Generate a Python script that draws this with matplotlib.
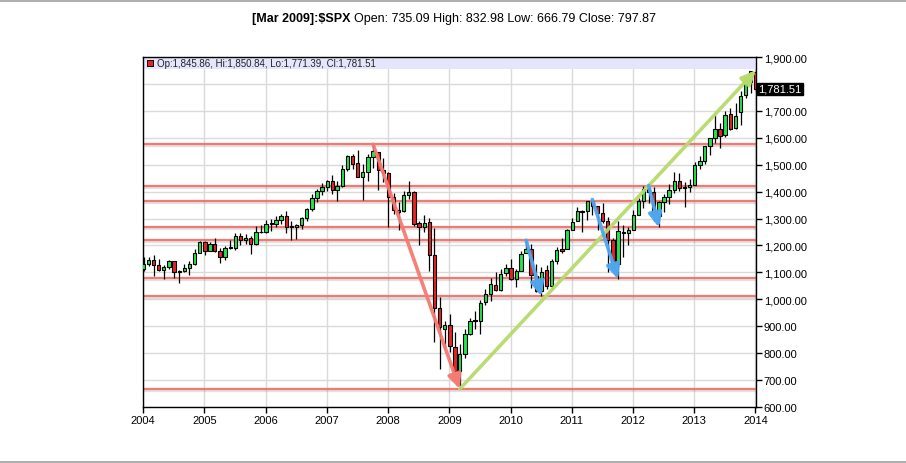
"""Monthly $SPX candlestick chart, 2004-2014, with trend lines."""

import matplotlib

matplotlib.use("Agg")

import matplotlib.dates as mdates
import matplotlib.patheffects as pe
import matplotlib.pyplot as plt
import pandas as pd
from matplotlib.lines import Line2D
from matplotlib.ticker import FuncFormatter, MultipleLocator

plt.rcParams["font.family"] = ["Liberation Sans", "DejaVu Sans"]

# monthly bars Jan 2004 .. Jan 2014
first_month = "2004-01-01"
opens = [
    1111.92, 1131.13, 1144.94, 1126.21, 1107.30, 1120.68, 1140.84, 1101.72, 1104.24, 1114.58, 1130.20, 1173.82,
    1211.92, 1181.27, 1203.60, 1180.59, 1156.85, 1191.50, 1191.33, 1234.18, 1220.33, 1228.81, 1207.01, 1249.48,
    1248.29, 1280.08, 1280.66, 1294.83, 1310.61, 1270.09, 1270.20, 1276.66, 1303.82, 1335.85, 1377.94, 1400.63,
    1418.30, 1437.90, 1406.80, 1420.83, 1482.37, 1530.62, 1504.66, 1455.18, 1473.96, 1527.29, 1545.79, 1479.63,
    1467.97, 1378.60, 1330.45, 1326.41, 1385.97, 1399.62, 1284.91, 1269.42, 1287.83, 1164.17, 968.67, 888.61,
    902.99, 823.09, 735.09, 797.87, 872.74, 923.26, 920.82, 990.22, 1019.52, 1054.91, 1036.18, 1098.89,
    1116.56, 1073.89, 1105.36, 1171.23, 1188.58, 1087.30, 1031.10, 1107.53, 1049.72, 1143.49, 1185.71, 1186.60,
    1257.62, 1289.14, 1328.64, 1329.48, 1365.21, 1345.20, 1320.64, 1292.59, 1219.12, 1131.21, 1251.00, 1246.91,
    1258.86, 1312.45, 1365.90, 1408.47, 1397.86, 1309.87, 1362.33, 1379.32, 1406.54, 1440.90, 1412.20, 1416.18,
    1426.19, 1498.11, 1514.68, 1569.18, 1597.55, 1631.71, 1609.78, 1689.42, 1635.95, 1693.87, 1758.70, 1806.55,
    1845.86,
]
highs = [
    1155.38, 1158.98, 1163.23, 1150.57, 1127.74, 1146.34, 1140.84, 1109.68, 1131.54, 1142.05, 1188.46, 1217.33,
    1217.80, 1212.44, 1229.11, 1191.88, 1199.56, 1219.59, 1245.15, 1245.86, 1243.13, 1233.34, 1270.64, 1275.80,
    1294.90, 1297.57, 1310.88, 1318.16, 1326.70, 1290.68, 1280.42, 1306.74, 1340.28, 1389.45, 1407.89, 1431.81,
    1441.61, 1461.57, 1438.89, 1498.02, 1535.56, 1540.56, 1555.90, 1503.89, 1538.74, 1576.09, 1545.79, 1523.57,
    1471.77, 1396.02, 1359.68, 1404.05, 1440.24, 1404.05, 1292.17, 1313.15, 1303.04, 1264.12, 1007.51, 918.85,
    943.85, 877.86, 832.98, 888.70, 930.17, 956.23, 996.68, 1039.47, 1080.15, 1101.36, 1113.69, 1130.38,
    1150.45, 1112.42, 1180.69, 1219.80, 1205.13, 1131.23, 1120.95, 1129.24, 1148.90, 1196.14, 1227.08, 1262.60,
    1302.67, 1344.07, 1332.28, 1364.56, 1370.58, 1345.20, 1356.48, 1307.38, 1229.29, 1292.66, 1277.55, 1269.37,
    1333.47, 1378.04, 1419.15, 1422.38, 1415.32, 1363.46, 1391.74, 1426.68, 1474.51, 1470.96, 1434.27, 1448.00,
    1509.94, 1530.94, 1570.28, 1597.57, 1687.18, 1654.19, 1698.78, 1709.67, 1729.86, 1775.22, 1813.55, 1849.44,
    1850.84,
]
lows = [
    1105.08, 1124.44, 1087.16, 1106.30, 1076.32, 1113.32, 1078.78, 1060.72, 1101.29, 1090.19, 1127.60, 1173.37,
    1163.75, 1180.95, 1176.92, 1136.15, 1146.18, 1188.30, 1183.55, 1201.07, 1205.35, 1168.20, 1201.07, 1246.59,
    1245.74, 1253.61, 1268.42, 1280.74, 1245.34, 1219.29, 1224.54, 1261.30, 1290.93, 1327.10, 1360.98, 1385.93,
    1403.97, 1389.42, 1363.98, 1416.37, 1476.70, 1484.18, 1454.25, 1370.60, 1439.29, 1489.56, 1406.10, 1435.65,
    1270.05, 1316.75, 1256.98, 1324.35, 1373.07, 1272.00, 1200.44, 1248.64, 1106.42, 839.80, 741.02, 815.69,
    804.30, 734.52, 666.79, 783.32, 866.10, 888.86, 869.32, 978.51, 991.97, 1029.38, 1029.38, 1085.89,
    1071.59, 1044.50, 1105.36, 1170.69, 1040.78, 1028.33, 1010.91, 1039.70, 1039.70, 1131.87, 1173.00, 1186.60,
    1257.62, 1289.14, 1249.05, 1294.70, 1311.80, 1258.07, 1282.86, 1101.54, 1114.22, 1074.77, 1158.66, 1202.37,
    1258.86, 1312.45, 1340.03, 1357.38, 1291.98, 1266.74, 1325.41, 1354.65, 1396.56, 1403.28, 1343.35, 1398.11,
    1426.19, 1485.01, 1501.48, 1536.03, 1581.28, 1560.33, 1604.57, 1627.47, 1633.41, 1646.47, 1746.20, 1767.99,
    1771.39,
]
closes = [
    1131.13, 1144.94, 1126.21, 1107.30, 1120.68, 1140.84, 1101.72, 1104.24, 1114.58, 1130.20, 1173.82, 1211.92,
    1181.27, 1203.60, 1180.59, 1156.85, 1191.50, 1191.33, 1234.18, 1220.33, 1228.81, 1207.01, 1249.48, 1248.29,
    1280.08, 1280.66, 1294.83, 1310.61, 1270.09, 1270.20, 1276.66, 1303.82, 1335.85, 1377.94, 1400.63, 1418.30,
    1438.24, 1406.82, 1420.86, 1482.37, 1530.62, 1503.35, 1455.27, 1473.99, 1526.75, 1549.38, 1481.14, 1468.36,
    1378.55, 1330.63, 1322.70, 1385.59, 1400.38, 1280.00, 1267.38, 1282.83, 1166.36, 968.75, 896.24, 903.25,
    825.88, 735.09, 797.87, 872.81, 919.14, 919.32, 987.48, 1020.62, 1057.08, 1036.19, 1095.63, 1115.10,
    1073.87, 1104.49, 1169.43, 1186.69, 1089.41, 1030.71, 1101.60, 1049.33, 1141.20, 1183.26, 1180.55, 1257.64,
    1286.12, 1327.22, 1325.83, 1363.61, 1345.20, 1320.64, 1292.28, 1218.89, 1131.42, 1253.30, 1246.96, 1257.60,
    1312.41, 1365.68, 1408.47, 1397.91, 1310.33, 1362.16, 1379.32, 1406.58, 1440.67, 1412.16, 1416.18, 1426.19,
    1498.11, 1514.68, 1569.19, 1597.57, 1630.74, 1606.28, 1685.73, 1632.97, 1681.55, 1756.54, 1805.81, 1848.36,
    1781.51,
]

# support / resistance levels drawn across the chart
levels = [1576, 1422, 1367, 1270, 1222, 1078, 1011, 667]

# (from bar, price kind) -> (to bar, price kind), color
trend_arrows = [
    ((45, "high"), (62, "low"), "#f47b72"),
    ((62, "low"), (120, "high"), "#b7da6c"),
    ((75, "high"), (78, "low"), "#4ea7ee"),
    ((88, "high"), (93, "low"), "#4ea7ee"),
    ((99, "high"), (101, "low"), "#4ea7ee"),
]

title_bold = "[Mar 2009]:$SPX"
title_rest = "Open: 735.09 High: 832.98 Low: 666.79 Close: 797.87"

UP = "#1ee84c"
DOWN = "#e82323"
GRID = "#dadada"

months = pd.date_range(first_month, periods=len(closes), freq="MS")
xs = mdates.date2num(months) + 3
prices = {"high": highs, "low": lows}

fig = plt.figure(figsize=(9.06, 4.64), dpi=100)
ax = fig.add_axes([143 / 906, 1 - 408 / 464, 613 / 906, 350 / 464])

# grid
ax.yaxis.set_major_locator(MultipleLocator(100))
ax.xaxis.set_major_locator(mdates.YearLocator())
ax.xaxis.set_major_formatter(mdates.DateFormatter("%Y"))
ax.grid(True, color=GRID, linewidth=1, zorder=0)
ax.set_axisbelow(True)

# header band
ax.axhspan(1856, 1900, color="#e5e5fb", zorder=1.5, linewidth=0)

# horizontal levels
shadow = [pe.SimpleLineShadow(offset=(0.5, -1.5), shadow_color="#888888", alpha=0.25), pe.Normal()]
for lvl in levels:
    ax.axhline(lvl, color="#f26a62", linewidth=1.6, alpha=0.9, zorder=2, path_effects=shadow)

# candles
colors = [UP if c >= o else DOWN for o, c in zip(opens, closes)]
bottoms = [min(o, c) for o, c in zip(opens, closes)]
heights = [max(abs(c - o), 1.5) for o, c in zip(opens, closes)]
ax.vlines(xs, lows, highs, color="black", linewidth=0.9, zorder=3)
ax.bar(xs, heights, bottom=bottoms, width=20, color=colors, edgecolor="black",
       linewidth=0.8, zorder=4)

# trend arrows
for (i0, k0), (i1, k1), col in trend_arrows:
    ax.annotate(
        "",
        xy=(xs[i1], prices[k1][i1]),
        xytext=(xs[i0], prices[k0][i0]),
        arrowprops=dict(arrowstyle="-|>,head_length=0.85,head_width=0.4", color=col,
                        linewidth=2.6, mutation_scale=10, shrinkA=0, shrinkB=0, alpha=0.95),
        zorder=5,
    )

ax.set_xlim(mdates.date2num(pd.Timestamp("2004-01-01")), mdates.date2num(pd.Timestamp("2014-01-04")))
ax.set_ylim(600, 1900)

# axes styling; the last-price flag sits over the 1,800 label
last = closes[-1]
ax.yaxis.tick_right()
ax.yaxis.set_major_formatter(FuncFormatter(lambda v, _: "" if abs(v - last) < 40 else f"{v:,.2f}"))
ax.tick_params(axis="both", labelsize=8, length=4, width=1, color="black", pad=1.5)
for side in ["left", "right", "top", "bottom"]:
    ax.spines[side].set_color("black")
    ax.spines[side].set_linewidth(1)

# legend line in the header band
ax.scatter([0.012], [0.983], transform=ax.transAxes, marker="s", s=22, color=DOWN,
           edgecolor="black", linewidths=0.7, zorder=6, clip_on=False)
ax.text(0.023, 0.983, f"Op:{opens[-1]:,.2f}, Hi:{highs[-1]:,.2f}, Lo:{lows[-1]:,.2f}, Cl:{last:,.2f}",
        transform=ax.transAxes, fontsize=7, va="center", ha="left", color="#222222", zorder=6)

# last price flag
ax.text(1.004, last, f"{last:,.2f}", transform=ax.get_yaxis_transform(),
        fontsize=8, color="white", va="center", ha="left",
        bbox=dict(boxstyle="square,pad=0.12", facecolor="black", edgecolor="black"), zorder=7)

# title
fig.text(351 / 906, 1 - 19 / 464, title_bold, fontsize=9, fontweight="bold", ha="right", va="center",
         family=["Liberation Sans Narrow", "Liberation Sans"], parse_math=False)
fig.text(354 / 906, 1 - 19 / 464, title_rest, fontsize=9, ha="left", va="center",
         family=["Liberation Sans Narrow", "Liberation Sans"])

# page separators
for yy in (1 - 2 / 464, 1 - 463 / 464):
    fig.add_artist(Line2D([0, 1], [yy, yy], transform=fig.transFigure, color="#a0a0a0", linewidth=1.2))

fig.savefig("out.png", dpi=100)
plt.close(fig)
